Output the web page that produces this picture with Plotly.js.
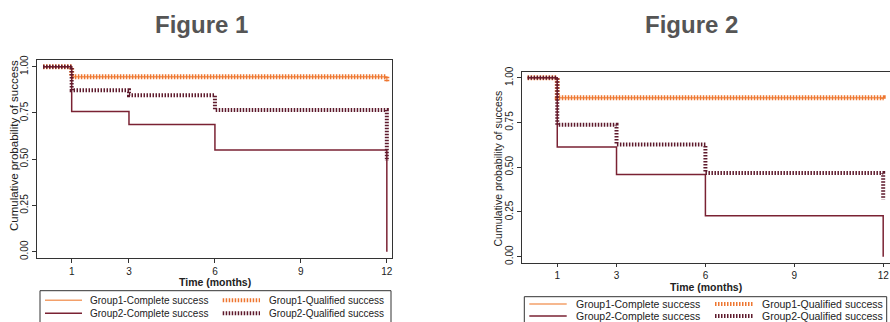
<!DOCTYPE html>
<html>
<head>
<meta charset="utf-8">
<script src="https://cdn.plot.ly/plotly-3.0.1.min.js"></script>
<style>
  html, body { margin: 0; padding: 0; background: #fff; }
  #chart { width: 890px; height: 322px; }
</style>
</head>
<body>
<div id="chart"></div>
<script>
// ---------- data ----------
const xTickVals = [1, 3, 6, 9, 12];
const yTickVals = [0, 0.25, 0.5, 0.75, 1];
const seriesNames = ["Group1-Complete success", "Group1-Qualified success",
                     "Group2-Complete success", "Group2-Qualified success"];
const panelTitles = ["Figure 1", "Figure 2"];
const xTitle = "Time (months)";
const yTitle = "Cumulative probability of success";

// Figure 1
const fig1G1Time = [0, 1, 12, 12];
const fig1G1Complete = [1, 0.945, 0.945, 0.92];
const fig1G1Qualified = [1, 0.945, 0.945, 0.92];
const fig1G2Time = [0, 1, 3, 6, 12, 12];
const fig1G2Complete = [1, 0.758, 0.687, 0.55, 0.55, 0];
const fig1G2Qualified = [1, 0.873, 0.846, 0.766, 0.766, 0.49];

// Figure 2
const fig2G1Time = [0, 1, 12, 12];
const fig2G1Complete = [1, 0.889, 0.889, 0.875];
const fig2G1Qualified = [1, 0.889, 0.889, 0.875];
const fig2G2Time = [0, 1, 3, 6, 12, 12];
const fig2G2Complete = [1, 0.613, 0.459, 0.229, 0.229, 0];
const fig2G2Qualified = [1, 0.738, 0.627, 0.468, 0.468, 0.32];

// ---------- styles ----------
const W = 890, H = 322;
const px = v => v / W;
const py = v => 1 - v / H;
const FONT = "Liberation Sans, Arial, Helvetica, sans-serif";
const colors = ["#F3A06A", "#EE7630", "#7A2233", "#5E1A2C"];
const widths = [1.5, 5, 1.5, 4];
const dashes = ["solid", "1.5px,1.5px", "solid", "1.5px,1.5px"];

function mk(x, y, i, xa, ya) {
  return {
    x: x, y: y, name: seriesNames[i], type: "scatter", mode: "lines",
    line: { shape: "hv", color: colors[i], width: widths[i], dash: dashes[i] },
    xaxis: xa, yaxis: ya, showlegend: false, hoverinfo: "x+y+name"
  };
}

const data = [
  mk(fig1G1Time, fig1G1Complete, 0, "x", "y"),
  mk(fig1G1Time, fig1G1Qualified, 1, "x", "y"),
  mk(fig1G2Time, fig1G2Complete, 2, "x", "y"),
  mk(fig1G2Time, fig1G2Qualified, 3, "x", "y"),
  mk(fig2G1Time, fig2G1Complete, 0, "x2", "y2"),
  mk(fig2G1Time, fig2G1Qualified, 1, "x2", "y2"),
  mk(fig2G2Time, fig2G2Complete, 2, "x2", "y2"),
  mk(fig2G2Time, fig2G2Qualified, 3, "x2", "y2")
];

function xAxis(domain, range, anchor, tl) {
  return {
    domain: domain, range: range, anchor: anchor,
    tickmode: "array", tickvals: xTickVals, ticktext: xTickVals.map(String),
    ticks: "outside", ticklen: tl, tickcolor: "#333", tickwidth: 1,
    showline: true, mirror: true, linecolor: "#333", linewidth: 1,
    showgrid: false, zeroline: false,
    tickfont: { family: FONT, size: 10, color: "#222" }
  };
}
function yAxis(domain, range, anchor) {
  return {
    domain: domain, range: range, anchor: anchor,
    tickmode: "array", tickvals: yTickVals, tickformat: ".2f", tickangle: -90,
    ticks: "outside", ticklen: 4, tickcolor: "#333", tickwidth: 1,
    showline: true, mirror: true, linecolor: "#333", linewidth: 1,
    showgrid: false, zeroline: false,
    tickfont: { family: FONT, size: 10, color: "#222" }
  };
}

const annotations = [];
const shapes = [];

// panel titles
[[201, 24], [691, 24]].forEach((p, i) => {
  annotations.push({
    text: panelTitles[i], xref: "paper", yref: "paper",
    x: px(p[0]), y: py(p[1]), xanchor: "center", yanchor: "middle", showarrow: false,
    font: { family: FONT, size: 24, color: "#555", weight: 700 }
  });
});

// axis titles
const axisTitleSpecs = [
  { t: xTitle, x: 214.5, y: 281.5, a: 0, s: 10.5 },
  { t: xTitle, x: 705.8, y: 287, a: 0, s: 10.5 },
  { t: yTitle, x: 14, y: 146, a: -90, s: 11.5 },
  { t: yTitle, x: 497.5, y: 169, a: -90, s: 10.5 }
];
axisTitleSpecs.forEach(s => {
  annotations.push({
    text: s.t, xref: "paper", yref: "paper", x: px(s.x), y: py(s.y),
    xanchor: "center", yanchor: "middle", showarrow: false, textangle: s.a,
    font: { family: FONT, size: s.s, color: "#222", weight: s.a === 0 ? 700 : 400 }
  });
});

// legends (one per panel)
const legendSpecs = [
  { box: [40, 290.7, 391, 340], rows: [300.3, 313.3], cols: [[45, 82, 88], [222.7, 260, 266.7]], fs: 10 },
  { box: [524.3, 296.7, 886.7, 340], rows: [304, 316], cols: [[529.3, 566.7, 574], [715, 753, 760]], fs: 10.5 }
];
legendSpecs.forEach(L => {
  shapes.push({
    type: "rect", xref: "paper", yref: "paper",
    x0: px(L.box[0]), x1: px(L.box[2]), y0: py(L.box[1]), y1: py(L.box[3]),
    line: { color: "#333", width: 1 }, fillcolor: "rgba(0,0,0,0)"
  });
  seriesNames.forEach((name, i) => {
    const r = Math.floor(i / 2), c = i % 2;
    const col = L.cols[c], yy = L.rows[r];
    shapes.push({
      type: "line", xref: "paper", yref: "paper",
      x0: px(col[0]), x1: px(col[1]), y0: py(yy), y1: py(yy),
      line: { color: colors[i], width: widths[i] === 1.5 ? 1.5 : 4, dash: dashes[i] }
    });
    annotations.push({
      text: name, xref: "paper", yref: "paper", x: px(col[2]), y: py(yy),
      xanchor: "left", yanchor: "middle", showarrow: false,
      font: { family: FONT, size: L.fs, color: "#222" }
    });
  });
});

const layout = {
  width: W, height: H,
  margin: { l: 0, r: 0, t: 0, b: 0, pad: 0 },
  paper_bgcolor: "#fff", plot_bgcolor: "#fff",
  showlegend: false,
  xaxis: xAxis([px(37.3), px(391.7)], [-0.2, 12.17], "y", 4),
  yaxis: yAxis([py(257.5), py(60)], [-0.031, 1.036], "x"),
  xaxis2: xAxis([px(521.7), 1], [-0.2, 12.23], "y2", 3),
  yaxis2: yAxis([py(263.3), py(71.7)], [-0.037, 1.034], "x2"),
  annotations: annotations,
  shapes: shapes
};

Plotly.newPlot("chart", data, layout, { displayModeBar: false, staticPlot: true });
</script>
</body>
</html>
